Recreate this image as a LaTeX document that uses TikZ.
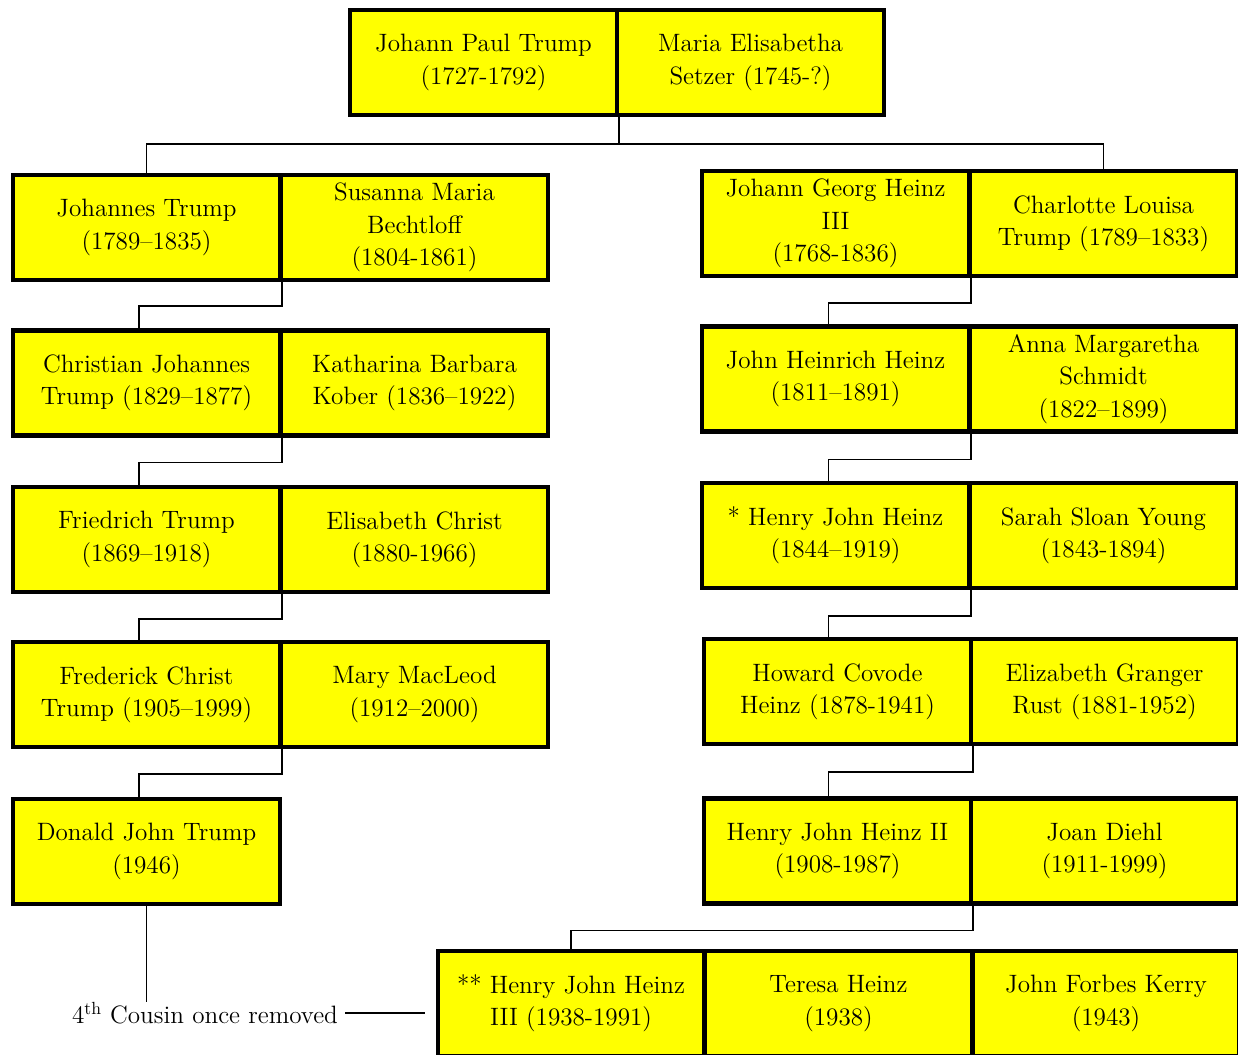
\documentclass[tikz,border=0pt]{standalone}

\begin{document}
\begin{tikzpicture}[x=0.02cm,y=-0.02cm]
  % Colors
  \definecolor{boxcolor}{rgb}{1,1,0}

  % Styles
  \tikzstyle{person}=[draw,fill=boxcolor,line width=2.3pt,minimum width=5.34cm,
    minimum height=2.1cm,align=center,inner sep=2pt,font=\fontsize{14.3}{18.4}\selectfont]
  \tikzstyle{family line}=[line width=1.1pt]

  % Page
  \useasboundingbox (0,0) rectangle (1238,1055);
  \clip (0,0) rectangle (1238,1055);

  % First couple
  \node[person] (jpt) at (483.5,62.5) {Johann Paul Trump\\(1727-1792)};
  \node[person] (mes) at (750.5,62.5) {Maria Elisabetha\\Setzer (1745-?)};

  % Trump side
  \node[person] (jt)  at (146.5,227.5) {Johannes Trump\\(1789--1835)};
  \node[person] (smb) at (414.5,227.5) {Susanna Maria\\Bechtloff\\(1804-1861)};
  \node[person] (cjt) at (146.5,383) {Christian Johannes\\Trump (1829--1877)};
  \node[person] (kbk) at (414.5,383) {Katharina Barbara\\Kober (1836--1922)};
  \node[person] (ft)  at (146.5,539.5) {Friedrich Trump\\(1869--1918)};
  \node[person] (ec)  at (414.5,539.5) {Elisabeth Christ\\(1880-1966)};
  \node[person] (fct) at (146.5,694.5) {Frederick Christ\\Trump (1905--1999)};
  \node[person] (mm)  at (414.5,694.5) {Mary MacLeod\\(1912--2000)};
  \node[person] (djt) at (146.5,851.5) {Donald John Trump\\(1946)};

  % Heinz side
  \node[person] (jgh) at (835.5,223.5) {Johann Georg Heinz\\III\\(1768-1836)};
  \node[person] (clt) at (1103.5,223.5) {Charlotte Louisa\\Trump (1789--1833)};
  \node[person] (jhh) at (835.5,379) {John Heinrich Heinz\\(1811--1891)};
  \node[person] (ams) at (1103.5,379) {Anna Margaretha\\Schmidt\\(1822--1899)};
  \node[person] (hjh) at (835.5,535.5) {* Henry John Heinz\\(1844--1919)};
  \node[person] (ssy) at (1103.5,535.5) {Sarah Sloan Young\\(1843-1894)};
  \node[person] (hch) at (837.5,691.5) {Howard Covode\\Heinz (1878-1941)};
  \node[person] (egr) at (1104.5,691.5) {Elizabeth Granger\\Rust (1881-1952)};
  \node[person] (hj2) at (837.5,851) {Henry John Heinz II\\(1908-1987)};
  \node[person] (jd)  at (1104.5,851) {Joan Diehl\\(1911-1999)};
  \node[person] (hj3) at (571,1003.5) {** Henry John Heinz\\III (1938-1991)};
  \node[person] (th)  at (838.5,1003.5) {Teresa Heinz\\(1938)};
  \node[person] (jfk) at (1106,1003.5) {John Forbes Kerry\\(1943)};

  % Cousin note
  \node[inner xsep=4pt,inner ysep=0pt,font=\fontsize{14.3}{18.4}\selectfont] (cousin) at (205,1013)
    {4\textsuperscript{th} Cousin once removed};
  \coordinate (cousin tip) at (425,1013);

  % Lines
  \draw[family line] (jpt.south east) -- ++(0,27) coordinate (split);
  \draw[family line] (jt.north) |- (split) -| (clt.north);

  \draw[family line] (jt.south east) -- ++(0,24) -| ([xshift=-0.15cm]cjt.north);
  \draw[family line] (cjt.south east) -- ++(0,25) -| ([xshift=-0.15cm]ft.north);
  \draw[family line] (ft.south east) -- ++(0,25) -| ([xshift=-0.15cm]fct.north);
  \draw[family line] (fct.south east) -- ++(0,25) -| ([xshift=-0.15cm]djt.north);

  \draw[family line] (jgh.south east) -- ++(0,25) -| ([xshift=-0.14cm]jhh.north);
  \draw[family line] (jhh.south east) -- ++(0,26) -| ([xshift=-0.14cm]hjh.north);
  \draw[family line] (hjh.south east) -- ++(0,26) -| ([xshift=-0.18cm]hch.north);
  \draw[family line] (hch.south east) -- ++(0,26) -| ([xshift=-0.18cm]hj2.north);
  \draw[family line] (hj2.south east) -- ++(0,25) -| (hj3.north);

  \draw[family line] (djt.south) -- (djt.south |- cousin.north);
  \draw[line width=0.8pt] (cousin.east) -- (cousin tip);
\end{tikzpicture}
\end{document}
